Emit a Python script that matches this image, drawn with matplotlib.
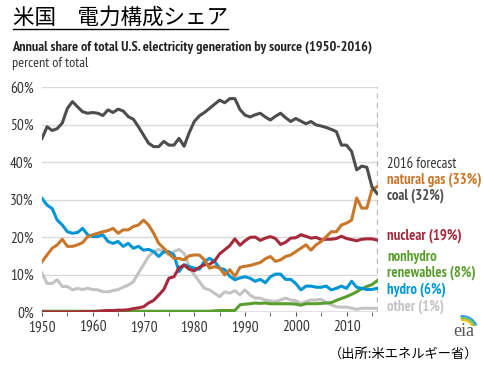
import matplotlib
matplotlib.use("Agg")
import matplotlib.pyplot as plt
from matplotlib import font_manager
from matplotlib.font_manager import FontProperties
from matplotlib.patches import Arc


def narrow_font(weight, size):
    # PT Sans Narrow is close to the Arial Narrow of the original
    for f in font_manager.fontManager.ttflist:
        if f.name == "PT Sans Narrow" and f.weight == weight and f.style == "normal":
            return FontProperties(fname=f.fname, size=size)
    return FontProperties(family="DejaVu Sans", stretch="condensed",
                          weight="bold" if weight == 700 else "normal", size=size)


cjk = ["Noto Sans CJK JP", "DejaVu Sans"]

years = list(range(1950, 2017))

coal = [46.3, 49.4, 48.4, 48.9, 50.4, 54.3, 56.1, 54.7, 53.4, 53.0,
        53.2, 53.0, 52.4, 53.9, 53.2, 54.1, 53.6, 52.1, 51.4, 49.4,
        47.2, 45.0, 44.1, 44.1, 45.5, 44.5, 44.5, 46.3, 44.2, 47.8,
        50.8, 52.3, 53.2, 54.3, 55.4, 56.5, 55.8, 56.9, 56.9, 54.0,
        52.5, 52.0, 52.6, 53.0, 52.0, 51.2, 52.2, 53.0, 51.8, 50.8,
        51.6, 50.9, 50.2, 50.8, 49.9, 49.6, 49.2, 48.7, 48.1, 44.5,
        44.5, 42.8, 37.9, 38.9, 38.6, 33.4, 31.6]
natural_gas = [13.4, 15.2, 17.0, 17.9, 19.4, 17.5, 17.5, 17.9, 18.5, 20.1,
               20.6, 21.0, 21.4, 21.7, 22.3, 21.0, 21.9, 21.9, 22.8, 23.2,
               24.5, 23.2, 21.0, 18.3, 17.0, 15.6, 14.3, 14.3, 13.9, 15.0,
               15.2, 15.2, 13.9, 11.7, 12.1, 11.7, 9.9, 11.3, 9.5, 11.9,
               12.2, 12.4, 12.8, 13.2, 14.2, 14.8, 13.5, 13.9, 14.8, 15.2,
               16.1, 17.0, 17.9, 16.5, 17.9, 18.8, 20.1, 21.4, 21.4, 23.2,
               23.7, 24.5, 30.4, 27.7, 27.7, 32.6, 33.4]
nuclear = [0, 0, 0, 0, 0, 0, 0, 0, 0.05, 0.1,
           0.1, 0.2, 0.3, 0.4, 0.4, 0.5, 0.5, 0.6, 0.9, 1.1,
           1.4, 2.4, 3.1, 4.5, 6.0, 9.0, 9.4, 11.8, 12.5, 11.4,
           11.0, 11.9, 12.6, 12.7, 13.6, 15.5, 16.6, 17.7, 19.5, 17.8,
           19.0, 19.9, 20.0, 19.1, 19.7, 20.1, 19.6, 18.0, 18.6, 19.7,
           19.8, 20.6, 20.2, 19.7, 19.9, 19.3, 19.4, 19.4, 19.6, 20.2,
           19.6, 19.3, 19.0, 19.4, 19.5, 19.5, 19.2]
hydro = [30.3, 28.5, 27.6, 24.5, 23.2, 21.4, 21.0, 21.2, 22.3, 20.6,
         20.1, 20.1, 20.6, 18.8, 18.3, 18.8, 17.5, 18.3, 17.0, 17.5,
         16.5, 16.7, 16.1, 14.8, 16.1, 16.1, 15.2, 10.8, 12.6, 12.1,
         11.7, 11.4, 13.5, 14.3, 13.5, 11.7, 11.3, 9.5, 8.6, 9.1,
         9.4, 9.0, 8.2, 8.7, 7.8, 9.4, 10.1, 10.1, 8.7, 8.7,
         7.6, 5.9, 6.9, 6.9, 6.6, 6.6, 6.9, 5.9, 6.3, 6.9,
         6.3, 8.2, 6.6, 6.3, 6.0, 6.0, 6.3]
nonhydro = [0.2] * 34 + [0.3, 0.4, 0.4, 0.4, 0.4, 1.9,
            2.1, 2.2, 2.4, 2.3, 2.4, 2.2, 2.2, 2.2, 2.2, 2.2,
            2.1, 1.8, 2.2, 2.2, 2.2, 2.3, 2.4, 2.5, 3.1, 3.6,
            4.1, 4.7, 5.4, 6.2, 6.8, 7.3, 8.3]
other = [10.4, 7.6, 7.6, 8.6, 6.8, 6.8, 5.9, 6.3, 6.0, 6.3,
         6.0, 5.9, 5.4, 5.4, 5.7, 6.0, 6.6, 7.2, 8.1, 10.4,
         12.6, 14.8, 16.1, 16.7, 16.1, 15.2, 16.1, 16.7, 15.6, 12.1,
         9.9, 8.1, 6.3, 5.9, 5.0, 4.1, 5.4, 5.0, 5.7, 4.6,
         5.9, 4.5, 3.7, 3.7, 3.2, 3.0, 2.8, 3.2, 3.7, 3.2,
         3.0, 2.3, 2.8, 3.2, 3.2, 3.4, 2.5, 1.9, 1.4, 1.3,
         1.3, 1.0, 0.7, 1.0, 1.0, 1.0, 1.0]

series = [
    ("other", other, "#c3c3c3"),
    ("nonhydro", nonhydro, "#5a9e2f"),
    ("hydro", hydro, "#0096d6"),
    ("nuclear", nuclear, "#a52a3c"),
    ("natural gas", natural_gas, "#c8772a"),
    ("coal", coal, "#4d4d4d"),
]

labels = [
    ("2016 forecast", "#333333", 164),
    ("natural gas (33%)", "#c8772a", 180),
    ("coal (32%)", "#4d4d4d", 196),
    ("nuclear (19%)", "#a52a3c", 236),
    ("nonhydro", "#5a9e2f", 257),
    ("renewables (8%)", "#5a9e2f", 273),
    ("hydro (6%)", "#0096d6", 290),
    ("other (1%)", "#c3c3c3", 307),
]

W, H = 483, 366
fig = plt.figure(figsize=(W / 100, H / 100), dpi=100)
ax = fig.add_axes([42 / W, 1 - 312 / H, (378 - 42) / W, (312 - 87) / H])

for name, vals, col in series:
    ax.plot(years, vals, color=col, lw=2.2, solid_joinstyle="round", zorder=3)

tick_fp = narrow_font(400, 11)
ax.set_xlim(1950, 2016.2)
ax.set_ylim(0, 60)
ax.set_yticks(range(0, 61, 10))
ax.set_yticklabels([f"{v}%" for v in range(0, 61, 10)], fontproperties=tick_fp, color="#333333")
ax.set_xticks(range(1950, 2011, 10))
ax.set_xticklabels([str(y) for y in range(1950, 2011, 10)], fontproperties=tick_fp, color="#333333")
ax.set_xticks(range(1950, 2016, 5), minor=True)
ax.tick_params(axis="y", length=0, pad=6)
ax.tick_params(axis="x", which="both", length=3, color="#555555", pad=3)
ax.grid(axis="y", color="#d9d9d9", lw=1, zorder=0)
for s in ax.spines.values():
    s.set_visible(False)
ax.axhline(0, color="#777777", lw=1, zorder=1)
ax.axvline(2016, color="#bbbbbb", lw=1, ls=(0, (4, 3)), zorder=2)

for txt, col, py in labels:
    fp = narrow_font(400 if txt == "2016 forecast" else 700, 10.5)
    fig.text(387 / W, 1 - py / H, txt, color=col, fontproperties=fp, va="center", ha="left")

# titles
fig.text(13 / W, 1 - 18 / H, "米国　電力構成シェア", fontsize=15.5, family=cjk, va="center", ha="left")
fig.add_artist(plt.Line2D([13 / W, 228 / W], [1 - 29 / H, 1 - 29 / H], color="black", lw=1))
fig.text(12 / W, 1 - 47 / H, "Annual share of total U.S. electricity generation by source (1950-2016)",
         fontproperties=narrow_font(700, 10.3), color="#222222", va="center", ha="left")
fig.text(12 / W, 1 - 63 / H, "percent of total", fontproperties=narrow_font(400, 10.3),
         color="#333333", va="center", ha="left")

# eia logo
fig.text(464 / W, 1 - 331 / H, "eia", fontsize=13, family="Liberation Serif", color="#555555",
         va="center", ha="center")
lax = fig.add_axes([452 / W, 1 - 326 / H, 26 / W, 12 / H])
lax.set_xlim(0, 26)
lax.set_ylim(0, 12)
lax.axis("off")
for r, col in [(12, "#f2c31a"), (14, "#7cbf3f"), (16, "#2a9fd8")]:
    lax.add_patch(Arc((10, -6), 2 * r, 2 * r, theta1=25, theta2=95, color=col, lw=1.4))

fig.text(478 / W, 1 - 354 / H, "（出所:米エネルギー省）", fontsize=9.5, family=cjk,
         va="center", ha="right")

fig.savefig("out.png", dpi=100)
